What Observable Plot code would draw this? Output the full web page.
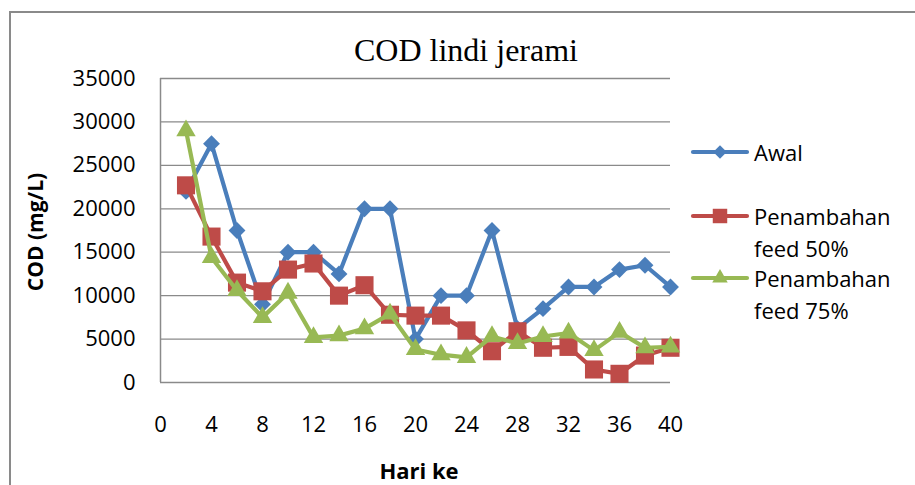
<!DOCTYPE html>
<html>
<head>
<meta charset="utf-8">
<script src="https://cdn.jsdelivr.net/npm/d3@7"></script>
<script src="https://cdn.jsdelivr.net/npm/@observablehq/plot@0.6"></script>
<style>
  html, body { margin: 0; padding: 0; background: #fff; overflow: hidden; }
  #wrap { position: relative; width: 915px; height: 485px; overflow: hidden; font-family: "Open Sans", sans-serif; }
  #frame { position: absolute; left: 9px; top: 11px; width: 1000px; height: 1000px; border: 2px solid #8a8a8a; box-sizing: border-box; }
  #chart { position: absolute; left: 0; top: 0; }
  .title { position: absolute; left: 266px; width: 400px; top: 33px; text-align: center; font-family: "Liberation Serif", "Times New Roman", serif; font-size: 32px; color: #000; line-height: 34px; }
  .ylab { position: absolute; left: 35px; top: 232px; transform: translate(-50%, -50%) rotate(-90deg); font-weight: bold; font-size: 21px; white-space: nowrap; color: #000; }
  .xlab { position: absolute; left: 419px; top: 470px; transform: translate(-50%, -50%); font-weight: bold; font-size: 22px; white-space: nowrap; color: #000; }
  .leg { position: absolute; left: 690px; display: flex; align-items: flex-start; }
  .leg svg { flex: none; }
  .leg .lt { font-size: 22px; line-height: 32px; color: #000; margin-left: 4px; }
</style>
</head>
<body>
<div id="wrap">
  <div id="frame"></div>
  <div id="chart"></div>
  <div class="title">COD lindi jerami</div>
  <div class="ylab">COD (mg/L)</div>
  <div class="xlab">Hari ke</div>
  <div id="legend"></div>
</div>
<script>
// ---- data ----
const days = [2, 4, 6, 8, 10, 12, 14, 16, 18, 20, 22, 24, 26, 28, 30, 32, 34, 36, 38, 40];
const awal = [22000, 27500, 17500, 9000, 15000, 15000, 12500, 20000, 20000, 5000, 10000, 10000, 17500, 6200, 8500, 11000, 11000, 13000, 13500, 11000];
const feed50 = [22700, 16800, 11500, 10500, 13000, 13700, 10000, 11200, 7800, 7700, 7700, 6000, 3600, 5900, 4000, 4100, 1500, 1000, 3100, 4000];
const feed75 = [29000, 14400, 10600, 7500, 10300, 5200, 5400, 6200, 7900, 3800, 3200, 2900, 5300, 4500, 5300, 5700, 3700, 5800, 4000, 4100];
const seriesNames = ["Awal", "Penambahan feed 50%", "Penambahan feed 75%"];
const seriesColors = ["#4A7EBB", "#BE4B48", "#98B954"];
const seriesSymbols = ["diamond2", "square", "triangle"];
const xTicks = [0, 4, 8, 12, 16, 20, 24, 28, 32, 36, 40];
const yTicks = [0, 5000, 10000, 15000, 20000, 25000, 30000, 35000];

const seriesValues = [awal, feed50, feed75];
const symbolR = { diamond2: 7.6, square: 10.2, triangle: 7.2 };

const marks = [
  Plot.gridY(yTicks.filter(d => d > 0), { stroke: "#8a8a8a", strokeOpacity: 1, strokeWidth: 1.3 }),
  Plot.ruleX([0], { stroke: "#8a8a8a", strokeWidth: 1.5 }),
  Plot.ruleY([0], { stroke: "#8a8a8a", strokeWidth: 1.5 }),
  Plot.axisY({ ticks: yTicks, tickSize: 0, tickPadding: 25, fontSize: 22, label: null, tickFormat: d => String(d) }),
  Plot.axisX({ ticks: xTicks, tickSize: 0, tickPadding: 34, fontSize: 22, label: null, tickFormat: d => String(d) })
];

seriesValues.forEach((vals, i) => {
  const rows = days.map((d, j) => ({ x: d, y: vals[j] }));
  marks.push(Plot.line(rows, { x: "x", y: "y", stroke: seriesColors[i], strokeWidth: 4.2, strokeLinejoin: "round" }));
  marks.push(Plot.dot(rows, { x: "x", y: "y", symbol: seriesSymbols[i], r: symbolR[seriesSymbols[i]], fill: seriesColors[i], stroke: "none" }));
});

const chart = Plot.plot({
  width: 915,
  height: 485,
  marginLeft: 160,
  marginRight: 245,
  marginTop: 78,
  marginBottom: 103,
  style: { fontFamily: "'Open Sans', sans-serif", fontSize: "22px", color: "#000", background: "transparent" },
  x: { domain: [0, 40], axis: null },
  y: { domain: [0, 35000], axis: null },
  marks
});
document.getElementById("chart").appendChild(chart);

// ---- legend ----
const legendTops = [136, 200, 262];
const legendLines = [["Awal"], ["Penambahan", "feed 50%"], ["Penambahan", "feed 75%"]];
const symGen = { diamond2: d3.symbolDiamond2, square: d3.symbolSquare, triangle: d3.symbolTriangle };
const legend = d3.select("#legend");
seriesNames.forEach((name, i) => {
  const row = legend.append("div").attr("class", "leg").style("top", legendTops[i] + "px");
  const sw = row.append("svg").attr("width", 60).attr("height", 32);
  sw.append("line").attr("x1", 3).attr("x2", 57).attr("y1", 16).attr("y2", 16)
    .attr("stroke", seriesColors[i]).attr("stroke-width", 4.2).attr("stroke-linecap", "round");
  const r = symbolR[seriesSymbols[i]] * 0.8;
  sw.append("path").attr("transform", "translate(30,16)")
    .attr("d", d3.symbol(symGen[seriesSymbols[i]], Math.PI * r * r)())
    .attr("fill", seriesColors[i]);
  row.append("div").attr("class", "lt").html(legendLines[i].join("<br>"));
});
</script>
</body>
</html>
